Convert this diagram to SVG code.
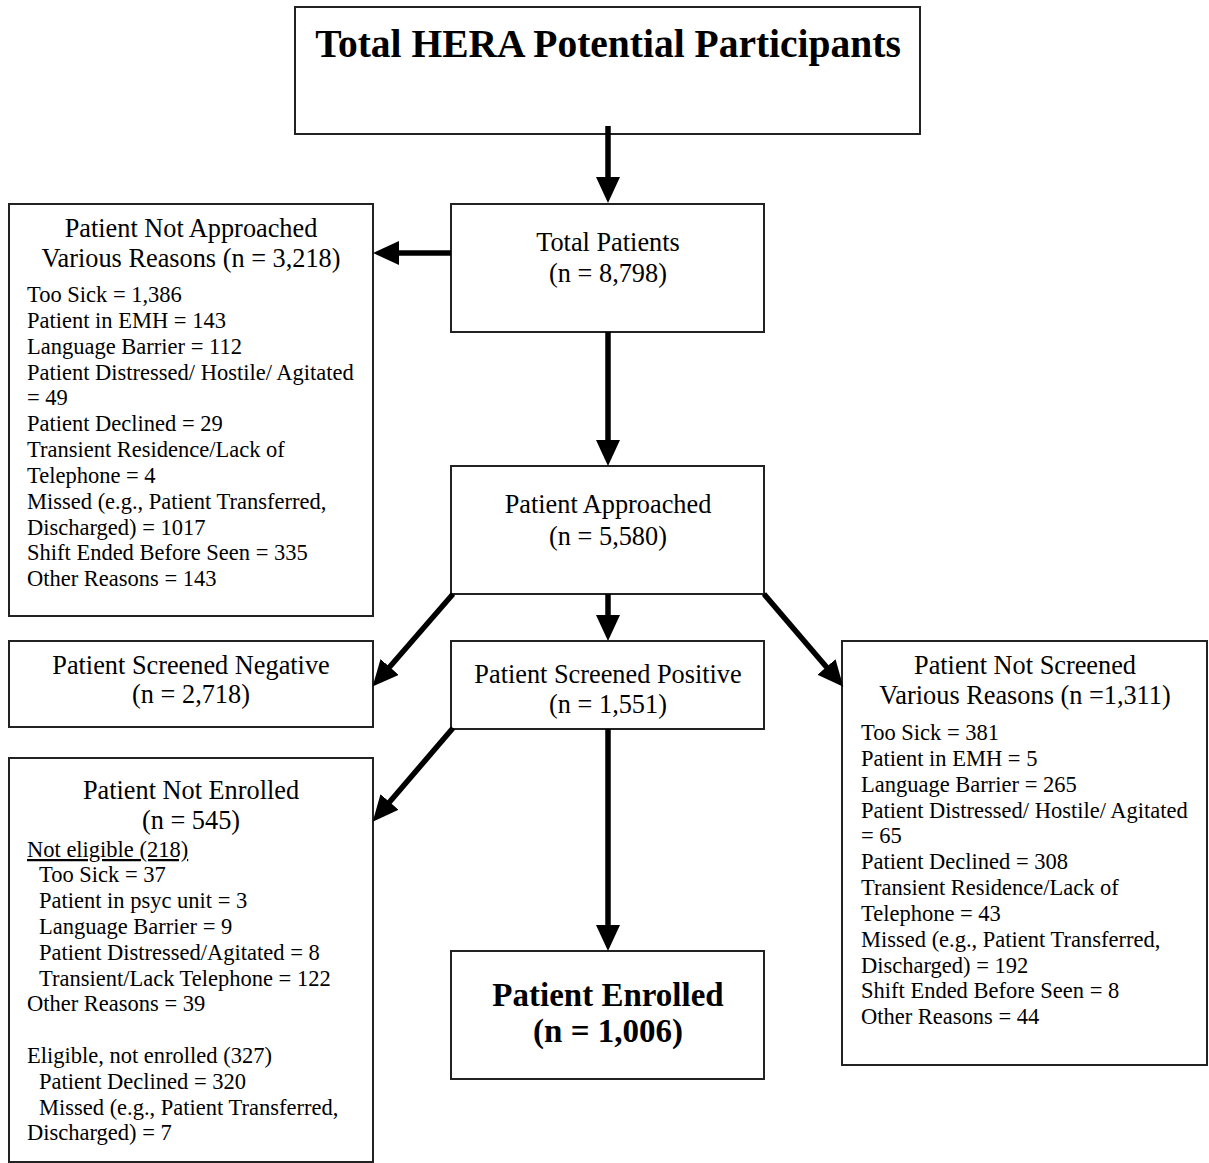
<svg xmlns="http://www.w3.org/2000/svg" width="1209" height="1163" viewBox="0 0 1209 1163">
<style>
.box{fill:#fff;stroke:#222;stroke-width:2}
text{font-family:"Liberation Serif","Times New Roman",serif;fill:#000}
.t{font-size:26.3px;text-anchor:middle}
.l{font-size:22.5px}
.b{font-weight:bold;text-anchor:middle}
.c{stroke:#000;stroke-width:5.5;fill:none;marker-end:url(#ah)}
</style>
<defs>
<marker id="ah" markerUnits="userSpaceOnUse" markerWidth="26" markerHeight="24" refX="4" refY="12" orient="auto" viewBox="0 0 26 24">
<path d="M0,0 L26,12 L0,24 z" fill="#000"/>
</marker>
</defs>
<rect width="1209" height="1163" fill="#fff"/>
<g id="n-total-hera">
<rect class="box" x="295" y="7" width="625" height="127"/>
<text class="b" x="608" y="57" font-size="39.5">Total HERA Potential Participants</text>
</g>
<g id="n-total-patients">
<rect class="box" x="451" y="204" width="313" height="128"/>
<text class="t" x="608" y="251">Total Patients</text>
<text class="t" x="608" y="282">(n = 8,798)</text>
</g>
<g id="n-not-approached">
<rect class="box" x="9" y="204" width="364" height="412"/>
<text class="t" x="191" y="237">Patient Not Approached</text>
<text class="t" x="191" y="267">Various Reasons (n = 3,218)</text>
<text class="l" x="27" y="302">Too Sick = 1,386</text>
<text class="l" x="27" y="328">Patient in EMH = 143</text>
<text class="l" x="27" y="354">Language Barrier = 112</text>
<text class="l" x="27" y="380">Patient Distressed/ Hostile/ Agitated</text>
<text class="l" x="27" y="405">= 49</text>
<text class="l" x="27" y="431">Patient Declined = 29</text>
<text class="l" x="27" y="457">Transient Residence/Lack of</text>
<text class="l" x="27" y="483">Telephone = 4</text>
<text class="l" x="27" y="509">Missed (e.g., Patient Transferred,</text>
<text class="l" x="27" y="535">Discharged) = 1017</text>
<text class="l" x="27" y="560">Shift Ended Before Seen = 335</text>
<text class="l" x="27" y="586">Other Reasons = 143</text>
</g>
<g id="n-approached">
<rect class="box" x="451" y="466" width="313" height="128"/>
<text class="t" x="608" y="513">Patient Approached</text>
<text class="t" x="608" y="545">(n = 5,580)</text>
</g>
<g id="n-screened-negative">
<rect class="box" x="9" y="641" width="364" height="86"/>
<text class="t" x="191" y="674">Patient Screened Negative</text>
<text class="t" x="191" y="703">(n = 2,718)</text>
</g>
<g id="n-screened-positive">
<rect class="box" x="451" y="641" width="313" height="88"/>
<text class="t" x="608" y="683">Patient Screened Positive</text>
<text class="t" x="608" y="713">(n = 1,551)</text>
</g>
<g id="n-not-screened">
<rect class="box" x="842" y="641" width="365" height="424"/>
<text class="t" x="1025" y="674">Patient Not Screened</text>
<text class="t" x="1025" y="704">Various Reasons (n =1,311)</text>
<text class="l" x="861" y="740">Too Sick = 381</text>
<text class="l" x="861" y="766">Patient in EMH = 5</text>
<text class="l" x="861" y="792">Language Barrier = 265</text>
<text class="l" x="861" y="818">Patient Distressed/ Hostile/ Agitated</text>
<text class="l" x="861" y="843">= 65</text>
<text class="l" x="861" y="869">Patient Declined = 308</text>
<text class="l" x="861" y="895">Transient Residence/Lack of</text>
<text class="l" x="861" y="921">Telephone = 43</text>
<text class="l" x="861" y="947">Missed (e.g., Patient Transferred,</text>
<text class="l" x="861" y="973">Discharged) = 192</text>
<text class="l" x="861" y="998">Shift Ended Before Seen = 8</text>
<text class="l" x="861" y="1024">Other Reasons = 44</text>
</g>
<g id="n-not-enrolled">
<rect class="box" x="9" y="758" width="364" height="404"/>
<text class="t" x="191" y="799">Patient Not Enrolled</text>
<text class="t" x="191" y="829">(n = 545)</text>
<text class="l" x="27" y="857" text-decoration="underline">Not eligible (218)</text>
<text class="l" x="39" y="882">Too Sick = 37</text>
<text class="l" x="39" y="908">Patient in psyc unit = 3</text>
<text class="l" x="39" y="934">Language Barrier = 9</text>
<text class="l" x="39" y="960">Patient Distressed/Agitated = 8</text>
<text class="l" x="39" y="986">Transient/Lack Telephone = 122</text>
<text class="l" x="27" y="1011">Other Reasons = 39</text>
<text class="l" x="27" y="1063">Eligible, not enrolled (327)</text>
<text class="l" x="39" y="1089">Patient Declined = 320</text>
<text class="l" x="39" y="1115">Missed (e.g., Patient Transferred,</text>
<text class="l" x="27" y="1140">Discharged) = 7</text>
</g>
<g id="n-enrolled">
<rect class="box" x="451" y="951" width="313" height="128"/>
<text class="b" x="608" y="1006" font-size="33">Patient Enrolled</text>
<text class="b" x="608" y="1042" font-size="33">(n = 1,006)</text>
</g>
<g id="connectors">
<line class="c" x1="608" y1="126" x2="608" y2="181"/>
<line class="c" x1="451" y1="253" x2="395" y2="253"/>
<line class="c" x1="608" y1="332" x2="608" y2="444"/>
<line class="c" x1="608" y1="594" x2="608" y2="619"/>
<line class="c" x1="453" y1="594" x2="387" y2="670"/>
<line class="c" x1="764" y1="594" x2="829" y2="670"/>
<line class="c" x1="453" y1="728" x2="387" y2="805"/>
<line class="c" x1="608" y1="729" x2="608" y2="929"/>
</g>
</svg>
